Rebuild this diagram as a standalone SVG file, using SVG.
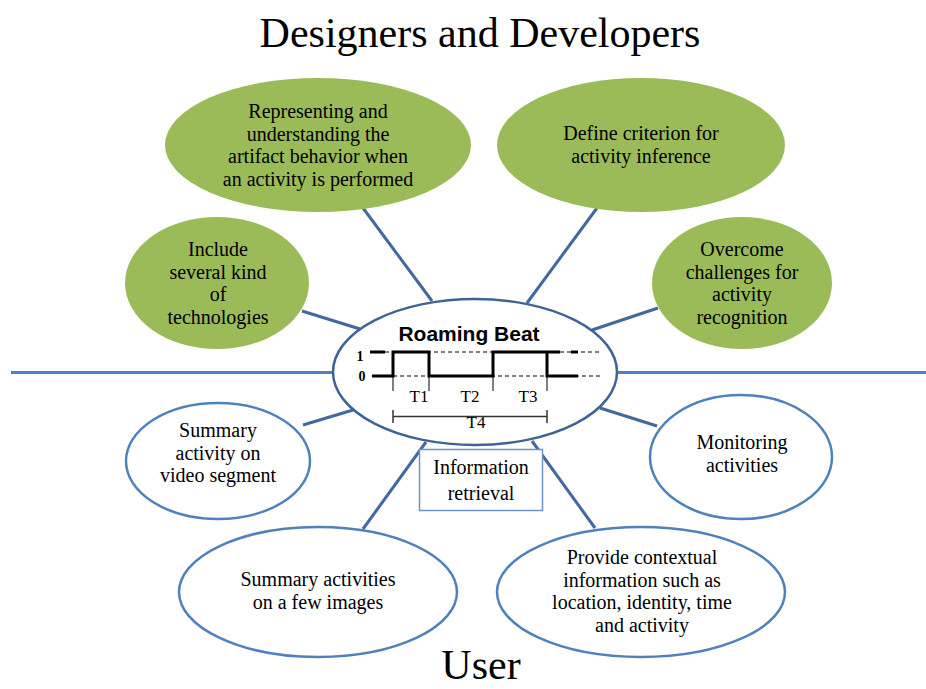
<svg xmlns="http://www.w3.org/2000/svg" width="926" height="689" viewBox="0 0 926 689">
<style>
.t{font-family:"Liberation Serif","Times New Roman",serif;font-size:20px;fill:#000;text-anchor:middle}
.h{font-family:"Liberation Serif","Times New Roman",serif;font-size:42px;fill:#000;text-anchor:middle}
.g{fill:#9BBB59;stroke:none}
.w{fill:#fff;stroke:#4F81BD;stroke-width:2.5}
.c{stroke:#41699F;stroke-width:3;fill:none}
.thick{stroke:#000;stroke-width:3;fill:none}
.thin{stroke:#000;stroke-width:1;fill:none}
.dash{stroke:#000;stroke-width:1;fill:none;stroke-dasharray:4 3}
.tl{font-family:"Liberation Serif","Times New Roman",serif;font-size:17px;fill:#000;text-anchor:middle}
.lv{font-family:"Liberation Serif","Times New Roman",serif;font-size:14px;font-weight:bold;fill:#000;text-anchor:middle}
</style>
<rect width="926" height="689" fill="#fff"/>
<text class="h" x="480" y="47">Designers and Developers</text>
<text class="h" x="481" y="679">User</text>

<g id="connectors">
<line class="c" x1="11" y1="372.5" x2="334" y2="372.5" style="stroke:#4F81BD"/>
<line class="c" x1="616" y1="372.5" x2="926" y2="372.5" style="stroke:#4F81BD"/>
<line class="c" x1="363" y1="208" x2="432" y2="301"/>
<line class="c" x1="597" y1="208" x2="527" y2="303"/>
<line class="c" x1="302" y1="311" x2="360" y2="329"/>
<line class="c" x1="658" y1="308" x2="592" y2="330"/>
<line class="c" x1="303" y1="425" x2="353" y2="410"/>
<line class="c" x1="657" y1="426" x2="600" y2="408"/>
<line class="c" x1="426" y1="442" x2="363" y2="529"/>
<line class="c" x1="532" y1="441" x2="595" y2="528"/>
</g>

<g id="n-represent">
<ellipse class="g" cx="318" cy="145" rx="153" ry="67"/>
<text class="t" x="318" y="118">Representing and</text>
<text class="t" x="318" y="140.5">understanding the</text>
<text class="t" x="318" y="163">artifact behavior when</text>
<text class="t" x="318" y="185.5">an activity is performed</text>
</g>
<g id="n-define">
<ellipse class="g" cx="641" cy="145" rx="144" ry="67"/>
<text class="t" x="641" y="140">Define criterion for</text>
<text class="t" x="641" y="162.5">activity inference</text>
</g>
<g id="n-include">
<ellipse class="g" cx="217" cy="283" rx="92" ry="66"/>
<text class="t" x="218" y="256">Include</text>
<text class="t" x="218" y="278.5">several kind</text>
<text class="t" x="218" y="301">of</text>
<text class="t" x="218" y="323.5">technologies</text>
</g>
<g id="n-overcome">
<ellipse class="g" cx="742" cy="283" rx="90" ry="66"/>
<text class="t" x="742" y="256">Overcome</text>
<text class="t" x="742" y="278.5">challenges for</text>
<text class="t" x="742" y="301">activity</text>
<text class="t" x="742" y="323.5">recognition</text>
</g>

<g id="n-video">
<ellipse class="w" cx="218" cy="461" rx="92" ry="58"/>
<text class="t" x="218" y="437">Summary</text>
<text class="t" x="218" y="459.5">activity on</text>
<text class="t" x="218" y="482">video segment</text>
</g>
<g id="n-monitor">
<ellipse class="w" cx="741" cy="457" rx="91" ry="62"/>
<text class="t" x="742" y="449">Monitoring</text>
<text class="t" x="742" y="471.5">activities</text>
</g>
<g id="n-images">
<ellipse class="w" cx="318" cy="592" rx="139" ry="65"/>
<text class="t" x="318" y="586">Summary activities</text>
<text class="t" x="318" y="608.5">on a few images</text>
</g>
<g id="n-context">
<ellipse class="w" cx="641" cy="592" rx="144" ry="65"/>
<text class="t" x="642" y="564">Provide contextual</text>
<text class="t" x="642" y="586.5">information such as</text>
<text class="t" x="642" y="609">location, identity, time</text>
<text class="t" x="642" y="631.5">and activity</text>
</g>

<g id="n-info">
<rect x="419.5" y="449.5" width="123" height="61" fill="#fff" stroke="#6C94C4" stroke-width="1.5"/>
<text class="t" x="481" y="474">Information</text>
<text class="t" x="481" y="500">retrieval</text>
</g>

<g id="n-roaming">
<ellipse cx="475" cy="372" rx="142" ry="73" fill="#fff" stroke="#3E6497" stroke-width="2.5"/>
<text x="469" y="341" style="font-family:'Liberation Sans',Arial,sans-serif;font-size:21px;font-weight:bold;text-anchor:middle">Roaming Beat</text>
<path class="dash" d="M385,352 H600"/>
<path class="dash" d="M393,376 H600"/>
<path class="thin" d="M393,352 V391 M429,352 V391 M493,352 V391 M547,352 V391"/>
<path class="thick" d="M370,352 H385"/>
<path class="thick" d="M372,376 H393 V352 H429 V376 H493 V352 H560"/>
<path class="thick" d="M547,352 V376 H578"/>
<path class="thick" d="M571,352 H578"/>
<text class="lv" x="360" y="361">1</text>
<text class="lv" x="362" y="381">0</text>
<text class="tl" x="419" y="402">T1</text>
<text class="tl" x="470" y="402">T2</text>
<text class="tl" x="528" y="402">T3</text>
<path d="M393,416.5 H547 M393,410 V423 M547,410 V423" stroke="#333" stroke-width="1.5" fill="none"/>
<text class="tl" x="476" y="428">T4</text>
</g>
</svg>
